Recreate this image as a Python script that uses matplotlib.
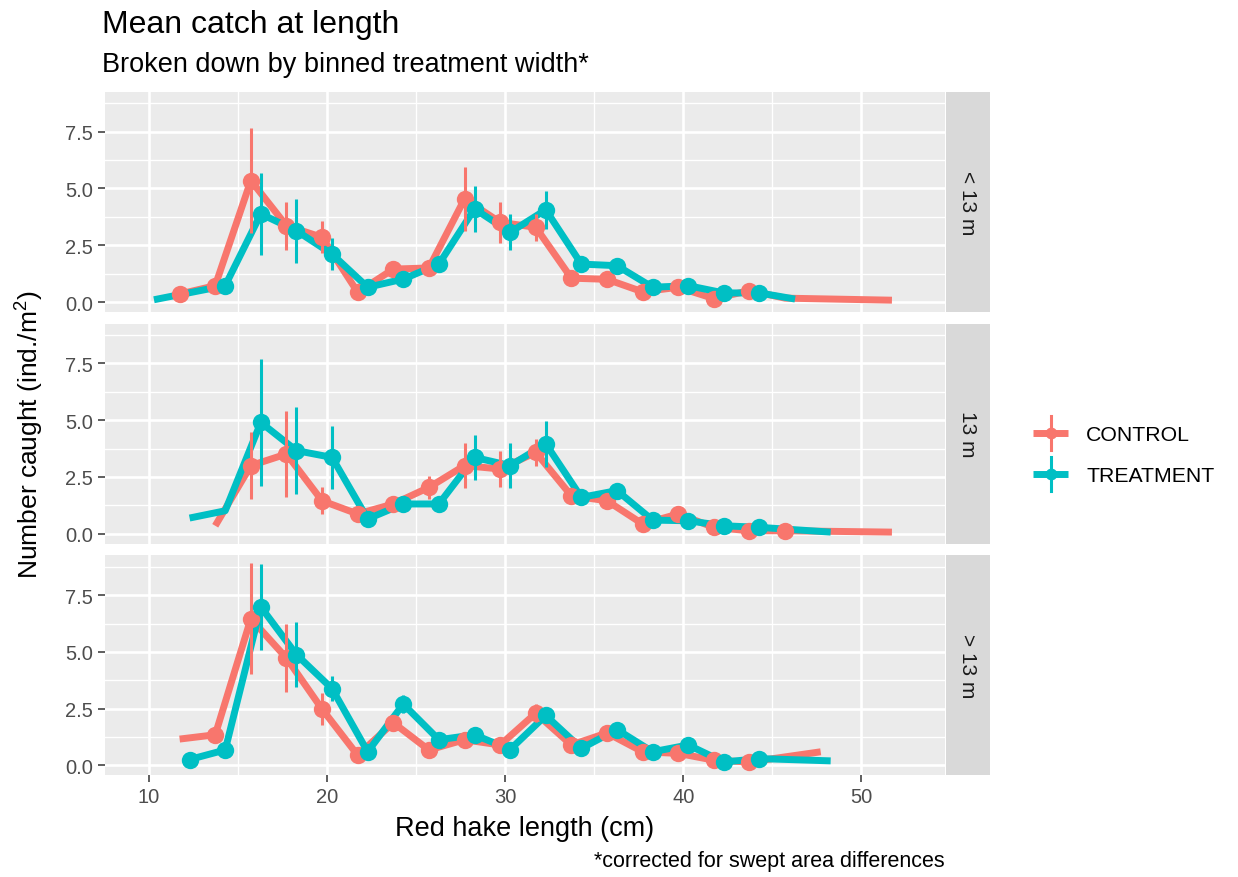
import numpy as np
import matplotlib
matplotlib.use("Agg")
import matplotlib.pyplot as plt
from matplotlib.lines import Line2D
from matplotlib.legend_handler import HandlerBase

plt.rcParams["font.family"] = ["Liberation Sans", "DejaVu Sans"]
plt.rcParams["mathtext.fontset"] = "custom"
plt.rcParams["mathtext.rm"] = "Liberation Sans"
plt.rcParams["mathtext.it"] = "Liberation Sans:italic"

# ---------------------------------------------------------------- data
# Length bins (cm), mean catch (ind./m^2) and error half-widths.
# A NaN error marks a bin drawn only as part of the line (no point range).
facets = ["< 13 m", "13 m", "> 13 m"]
groups = ["CONTROL", "TREATMENT"]

ctrl_len_lt13 = [12, 14, 16, 18, 20, 22, 24, 26, 28, 30, 32, 34, 36, 38, 40, 42, 44, 46, 52]
ctrl_mean_lt13 = [0.35, 0.72, 5.35, 3.36, 2.85, 0.43, 1.45, 1.50, 4.54, 3.51, 3.29, 1.05, 1.00,
                  0.45, 0.65, 0.15, 0.50, 0.17, 0.08]
ctrl_err_lt13 = [0.15, 0.15, 2.30, 1.05, 0.70, 0.20, 0.25, 0.25, 1.40, 0.90, 0.60, 0.20, 0.20,
                 0.15, 0.15, 0.15, 0.10, np.nan, np.nan]

trt_len_lt13 = [10, 14, 16, 18, 20, 22, 24, 26, 28, 30, 32, 34, 36, 38, 40, 42, 44, 46]
trt_mean_lt13 = [0.10, 0.72, 3.88, 3.14, 2.11, 0.65, 1.01, 1.67, 4.10, 3.07, 4.06, 1.67, 1.60,
                 0.65, 0.72, 0.40, 0.40, 0.13]
trt_err_lt13 = [np.nan, 0.20, 1.80, 1.40, 0.70, 0.20, 0.20, 0.30, 1.03, 0.80, 0.85, 0.20, 0.20,
                0.15, 0.15, 0.10, 0.10, np.nan]

ctrl_len_13 = [14, 16, 18, 20, 22, 24, 26, 28, 30, 32, 34, 36, 38, 40, 42, 44, 46, 52]
ctrl_mean_13 = [0.35, 3.00, 3.51, 1.45, 0.87, 1.31, 2.04, 3.00, 2.85, 3.58, 1.67, 1.45, 0.43,
                0.87, 0.28, 0.13, 0.13, 0.07]
ctrl_err_13 = [np.nan, 1.47, 1.90, 0.60, 0.20, 0.25, 0.50, 1.00, 0.78, 0.60, 0.20, 0.20, 0.15,
               0.15, 0.10, 0.10, 0.10, np.nan]

trt_len_13 = [12, 14, 16, 18, 20, 22, 24, 26, 28, 30, 32, 34, 36, 38, 40, 42, 44, 48]
trt_mean_13 = [0.69, 1.01, 4.90, 3.66, 3.36, 0.65, 1.31, 1.31, 3.36, 3.00, 3.96, 1.60, 1.90,
               0.60, 0.57, 0.35, 0.28, 0.07]
trt_err_13 = [np.nan, np.nan, 2.80, 1.90, 1.40, 0.15, 0.30, 0.20, 1.00, 1.00, 1.00, 0.20, 0.25,
              0.15, 0.15, 0.10, 0.10, np.nan]

ctrl_len_gt13 = [12, 14, 16, 18, 20, 22, 24, 26, 28, 30, 32, 34, 36, 38, 40, 42, 44, 48]
ctrl_mean_gt13 = [1.16, 1.35, 6.46, 4.73, 2.48, 0.45, 1.88, 0.68, 1.13, 0.90, 2.30, 0.90, 1.43,
                  0.60, 0.53, 0.23, 0.15, 0.60]
ctrl_err_gt13 = [np.nan, 0.20, 2.44, 1.50, 0.70, 0.15, 0.30, 0.15, 0.20, 0.15, 0.40, 0.15, 0.20,
                 0.15, 0.15, 0.10, 0.10, np.nan]

trt_len_gt13 = [12, 14, 16, 18, 20, 22, 24, 26, 28, 30, 32, 34, 36, 38, 40, 42, 44, 48]
trt_mean_gt13 = [0.26, 0.68, 6.98, 4.88, 3.38, 0.60, 2.70, 1.13, 1.35, 0.70, 2.20, 0.75, 1.58,
                 0.60, 0.90, 0.15, 0.30, 0.20]
trt_err_gt13 = [0.10, 0.15, 1.90, 1.43, 0.55, 0.15, 0.40, 0.15, 0.20, 0.15, 0.30, 0.15, 0.25,
                0.15, 0.15, 0.10, 0.10, np.nan]

x_ticks = [10, 20, 30, 40, 50]
y_ticks = [0.0, 2.5, 5.0, 7.5]

panel_data = {
    "< 13 m": {"CONTROL": (ctrl_len_lt13, ctrl_mean_lt13, ctrl_err_lt13),
               "TREATMENT": (trt_len_lt13, trt_mean_lt13, trt_err_lt13)},
    "13 m": {"CONTROL": (ctrl_len_13, ctrl_mean_13, ctrl_err_13),
             "TREATMENT": (trt_len_13, trt_mean_13, trt_err_13)},
    "> 13 m": {"CONTROL": (ctrl_len_gt13, ctrl_mean_gt13, ctrl_err_gt13),
               "TREATMENT": (trt_len_gt13, trt_mean_gt13, trt_err_gt13)},
}

# ---------------------------------------------------------------- style
colors = {"CONTROL": "#F8766D", "TREATMENT": "#00BFC4"}
dodge = {"CONTROL": -0.28, "TREATMENT": 0.28}
panel_bg = "#EBEBEB"
strip_bg = "#D9D9D9"

W, H = 1238, 878
fig = plt.figure(figsize=(W / 100, H / 100), dpi=100)


def px_rect(left, top, width, height):
    return [left / W, 1 - (top + height) / H, width / W, height / H]


panel_left, panel_right = 105, 945
panel_top, panel_h, panel_gap = 93, 220, 11.7
strip_w = 44

legend_lines = []
for i, facet in enumerate(facets):
    top = panel_top + i * (panel_h + panel_gap)
    ax = fig.add_axes(px_rect(panel_left, top, panel_right - panel_left, panel_h))
    ax.set_facecolor(panel_bg)
    ax.set_xlim(7.53, 54.7)
    ax.set_ylim(-0.44, 9.25)
    for s in ax.spines.values():
        s.set_visible(False)

    # grid: white major and thinner minor lines
    ax.set_xticks(x_ticks)
    ax.set_xticks([15, 25, 35, 45], minor=True)
    ax.set_yticks(y_ticks)
    ax.set_yticks([1.25, 3.75, 6.25, 8.75], minor=True)
    ax.grid(which="major", color="white", lw=1.9)
    ax.grid(which="minor", color="white", lw=0.95)
    ax.set_axisbelow(True)
    ax.tick_params(which="minor", length=0)
    ax.tick_params(which="major", length=5, width=1.1, color="#333333",
                   labelsize=14.5, labelcolor="#4D4D4D", pad=3.6)
    ax.set_yticklabels([f"{v:.1f}" for v in y_ticks])
    if i < len(facets) - 1:
        ax.tick_params(axis="x", which="both", length=0, labelbottom=False)

    for g in groups:
        lens, means, errs = panel_data[facet][g]
        x = np.asarray(lens, float) + dodge[g]
        y = np.asarray(means, float)
        e = np.asarray(errs, float)
        line, = ax.plot(x, y, color=colors[g], lw=5, solid_joinstyle="round",
                        solid_capstyle="butt", zorder=2, label=g)
        has = ~np.isnan(e)
        ax.vlines(x[has], y[has] - e[has], y[has] + e[has], color=colors[g],
                  lw=2.2, zorder=3)
        ax.plot(x[has], y[has], "o", color=colors[g], ms=12.5, mec="none", zorder=4)
        if i == 0:
            legend_lines.append(line)

    # facet strip on the right
    sax = fig.add_axes(px_rect(panel_right + 1, top, strip_w, panel_h))
    sax.set_facecolor(strip_bg)
    sax.set_xticks([])
    sax.set_yticks([])
    for s in sax.spines.values():
        s.set_visible(False)
    sax.text(0.5, 0.5, facet, rotation=-90, ha="center", va="center",
             fontsize=15, color="#1A1A1A", transform=sax.transAxes)


class PointRangeKey(HandlerBase):
    """Legend key: line with a point and a vertical range through it."""

    def create_artists(self, legend, orig_handle, xdescent, ydescent, width,
                       height, fontsize, trans):
        c = orig_handle.get_color()
        yc = height / 2 - ydescent
        xc = width / 2 - xdescent
        seg = Line2D([-xdescent, width - xdescent], [yc, yc], color=c, lw=5,
                     solid_capstyle="butt")
        bar = Line2D([xc, xc], [yc - 0.8 * fontsize, yc + 0.8 * fontsize],
                     color=c, lw=2.2)
        dot = Line2D([xc], [yc], marker="o", ms=8.5, color=c, mec="none")
        for a in (seg, bar, dot):
            a.set_transform(trans)
        return [seg, bar, dot]


fig.legend(legend_lines, groups, handler_map={Line2D: PointRangeKey()},
           loc="center left", bbox_to_anchor=(1033 / W, 1 - 455.5 / H),
           frameon=False, fontsize=15.3, handlelength=1.65, handleheight=1.0,
           handletextpad=0.85, labelspacing=0.95, borderpad=0, borderaxespad=0)

# titles and axis labels
fig.text(102 / W, 1 - 33 / H, "Mean catch at length", fontsize=23, color="black",
         ha="left", va="baseline")
fig.text(102 / W, 1 - 72 / H, "Broken down by binned treatment width*", fontsize=19.5,
         color="black", ha="left", va="baseline")
fig.text(30 / W, 1 - 435 / H, "Number caught (ind./m$^2$)", fontsize=19,
         rotation=90, ha="center", va="center")
fig.text((panel_left + panel_right) / 2 / W, 1 - 829 / H, "Red hake length (cm)",
         fontsize=19.5, ha="center", va="center")
fig.text(panel_right / W, 1 - 862 / H, "*corrected for swept area differences",
         fontsize=15.5, ha="right", va="center")

fig.savefig("out.png", dpi=100, facecolor="white")
